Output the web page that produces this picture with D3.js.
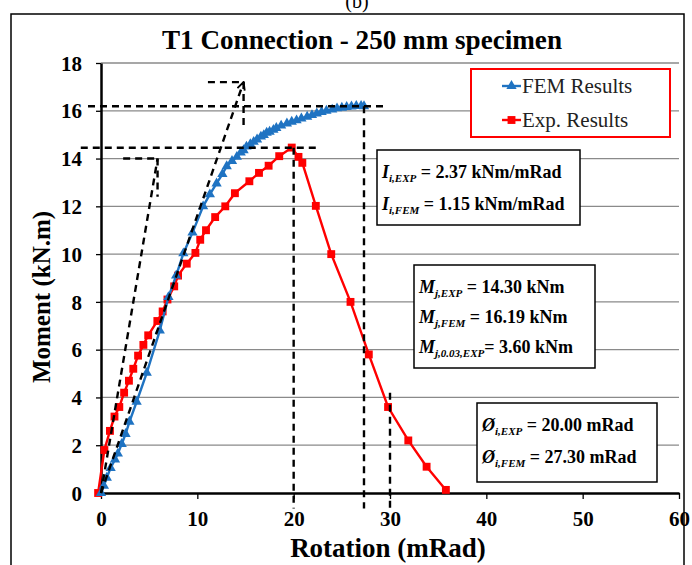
<!DOCTYPE html>
<html>
<head>
<meta charset="utf-8">
<script src="https://cdn.jsdelivr.net/npm/d3@7"></script>
<style>
  body { margin: 0; background: #fff; }
  svg { display: block; font-family: "Times New Roman", "Liberation Serif", serif; }
</style>
</head>
<body>
<div id="chart"></div>
<script>
// --- DATA ---
// FEM results: [rotation (mRad), moment (kN.m)]
const femRotation = [0, 0.3, 0.6, 1.0, 1.45, 1.75, 2.15, 2.55, 2.95, 3.7, 4.75, 6.1, 7.0, 7.8, 8.55,
  9.5, 10.6, 11.3, 12.0, 12.6, 13.05, 13.6, 14.1, 14.5, 14.8, 15.1, 15.5, 15.85, 16.2, 16.6, 16.9,
  17.2, 17.5, 17.9, 18.2, 18.7, 19.3, 19.8, 20.3, 20.8, 21.4, 21.9, 22.4, 22.9, 23.4, 24.0, 24.5,
  25.0, 25.5, 26.0, 26.5, 27.0, 27.3];
const femMoment = [0, 0.3, 0.64, 1.05, 1.4, 1.65, 2.05, 2.47, 2.98, 3.82, 5.03, 6.8, 8.2, 9.1, 10.03,
  10.9, 12.0, 12.5, 12.96, 13.35, 13.68, 13.9, 14.07, 14.25, 14.35, 14.5, 14.6, 14.7, 14.8, 14.92, 14.98,
  15.08, 15.12, 15.2, 15.28, 15.38, 15.47, 15.54, 15.6, 15.68, 15.75, 15.82, 15.89, 15.95, 16.0, 16.05, 16.1,
  16.13, 16.16, 16.18, 16.2, 16.2, 16.19];

// Experimental results
const expRotation = [-0.3, 0.35, 0.93, 1.4, 1.9, 2.4, 2.9, 3.35, 3.85, 4.4, 4.9, 5.85, 6.4, 6.9, 7.6,
  8.0, 8.9, 9.8, 10.3, 10.9, 11.85, 12.9, 13.9, 15.4, 16.4, 17.4, 18.5, 19.8, 20.5, 20.9, 22.3,
  23.9, 25.9, 27.8, 29.8, 31.9, 33.8, 35.8];
const expMoment = [0, 1.8, 2.6, 3.2, 3.6, 4.2, 4.7, 5.2, 5.75, 6.2, 6.6, 7.2, 7.6, 8.1, 8.65,
  9.1, 9.6, 10.05, 10.6, 11.0, 11.55, 12.0, 12.55, 13.05, 13.4, 13.7, 14.1, 14.46, 14.07, 13.82, 12.02,
  10.0, 8.0, 5.8, 3.6, 2.2, 1.1, 0.13];

// Dashed construction lines (rotation / moment pairs)
const guideLines = [
  { name: "expTangent", x: [0, 5.87], y: [0, 14.0] },
  { name: "expTangentH", x: [2.3, 5.87], y: [14.0, 14.0] },
  { name: "expTangentV", x: [5.87, 5.87], y: [14.0, 12.4] },
  { name: "femTangent", x: [0, 14.8], y: [0, 17.2], arrow: true },
  { name: "femTangentH", x: [11.1, 14.8], y: [17.2, 17.2] },
  { name: "femTangentV", x: [14.8, 14.8], y: [17.2, 15.2] },
  { name: "mFemH", x: [-1.35, 29.6], y: [16.19, 16.19] },
  { name: "mFemV", x: [27.3, 27.3], y: [16.19, -0.65] },
  { name: "mExpH", x: [-2.1, 22.6], y: [14.45, 14.45] },
  { name: "mExpV", x: [20, 20], y: [14.45, -0.65] },
  { name: "m003V", x: [30, 30], y: [4.2, -0.65] }
];

const xTicks = [0, 10, 20, 30, 40, 50, 60];
const yTicks = [0, 2, 4, 6, 8, 10, 12, 14, 16, 18];

const COLORS = { fem: "#1f73c2", exp: "#ff0000" };

// --- SVG SETUP ---
const width = 692, height = 565;
const margin = { top: 63, right: 13, bottom: 72, left: 101 };

const svg = d3.select("#chart").append("svg")
  .attr("width", width)
  .attr("height", height);

const x = d3.scaleLinear().domain([0, 60]).range([margin.left, width - margin.right]);
const y = d3.scaleLinear().domain([0, 18]).range([height - margin.bottom, margin.top]);

// arrow head for the FEM tangent
svg.append("defs").append("marker")
  .attr("id", "arrow")
  .attr("viewBox", "0 0 10 10")
  .attr("refX", 9).attr("refY", 5)
  .attr("markerWidth", 4).attr("markerHeight", 4)
  .attr("orient", "auto")
  .append("path")
  .attr("d", "M1,1 L9,5 L1,9")
  .attr("fill", "none")
  .attr("stroke", "#000")
  .attr("stroke-width", 2);

// outer frame
svg.append("rect")
  .attr("x", 11).attr("y", 14)
  .attr("width", 673).attr("height", 600)
  .attr("fill", "none")
  .attr("stroke", "#000")
  .attr("stroke-width", 1.5);

// panel label, cut off at the top as in the source figure
svg.append("text")
  .attr("x", 357).attr("y", 8)
  .attr("text-anchor", "middle")
  .style("font-size", "20px")
  .text("(b)");

// title
svg.append("text")
  .attr("x", 362).attr("y", 49)
  .attr("text-anchor", "middle")
  .attr("textLength", 400)
  .attr("lengthAdjust", "spacingAndGlyphs")
  .style("font-size", "27px")
  .style("font-weight", "bold")
  .text("T1 Connection - 250 mm specimen");

// --- GRID ---
svg.append("g")
  .selectAll("line")
  .data(yTicks.filter(d => d > 0))
  .join("line")
  .attr("x1", x(0)).attr("x2", x(60))
  .attr("y1", d => y(d)).attr("y2", d => y(d))
  .attr("stroke", "#8a8a8a")
  .attr("stroke-width", 1.3);

// --- AXES ---
const xAxis = svg.append("g")
  .attr("transform", `translate(0,${y(0)})`)
  .call(d3.axisBottom(x).tickValues(xTicks).tickSize(6).tickSizeOuter(0).tickPadding(12));

const yAxis = svg.append("g")
  .attr("transform", `translate(${x(0)},0)`)
  .call(d3.axisLeft(y).tickValues(yTicks).tickSize(5).tickSizeOuter(0).tickPadding(14));

[xAxis, yAxis].forEach(g => {
  g.select(".domain").attr("stroke", "#000").attr("stroke-width", 2.5);
  g.selectAll(".tick line").attr("stroke", "#000").attr("stroke-width", 1.3);
  g.selectAll(".tick text")
    .attr("fill", "#000")
    .style("font-family", '"Times New Roman", "Liberation Serif", serif')
    .style("font-weight", "bold");
});
xAxis.selectAll(".tick text").style("font-size", "21px");
yAxis.selectAll(".tick text").style("font-size", "21px").attr("dy", "0.34em");

// axis titles
svg.append("text")
  .attr("x", 388).attr("y", 557)
  .attr("text-anchor", "middle")
  .style("font-size", "27px")
  .style("font-weight", "bold")
  .text("Rotation (mRad)");

svg.append("text")
  .attr("transform", "translate(50,297) rotate(-90)")
  .attr("text-anchor", "middle")
  .style("font-size", "25px")
  .style("font-weight", "bold")
  .text("Moment (kN.m)");

// --- SERIES ---
const femData = femRotation.map((r, i) => [r, femMoment[i]]);
const expData = expRotation.map((r, i) => [r, expMoment[i]]);

const line = d3.line().x(d => x(d[0])).y(d => y(d[1]));
const triangle = d3.symbol().type(d3.symbolTriangle).size(46);
const square = d3.symbol().type(d3.symbolSquare).size(62);

svg.append("path")
  .datum(expData)
  .attr("d", line)
  .attr("fill", "none")
  .attr("stroke", COLORS.exp)
  .attr("stroke-width", 2.4);

svg.append("g")
  .selectAll("path")
  .data(expData)
  .join("path")
  .attr("transform", d => `translate(${x(d[0])},${y(d[1])})`)
  .attr("d", square)
  .attr("fill", COLORS.exp);

svg.append("path")
  .datum(femData)
  .attr("d", line)
  .attr("fill", "none")
  .attr("stroke", COLORS.fem)
  .attr("stroke-width", 2.4);

svg.append("g")
  .selectAll("path")
  .data(femData)
  .join("path")
  .attr("transform", d => `translate(${x(d[0])},${y(d[1])})`)
  .attr("d", triangle)
  .attr("fill", COLORS.fem);

// --- DASHED GUIDES ---
svg.append("g")
  .selectAll("line")
  .data(guideLines)
  .join("line")
  .attr("x1", d => x(d.x[0])).attr("y1", d => y(d.y[0]))
  .attr("x2", d => x(d.x[1])).attr("y2", d => y(d.y[1]))
  .attr("stroke", "#000")
  .attr("stroke-width", 2.4)
  .attr("stroke-dasharray", "7,5")
  .attr("marker-end", d => d.arrow ? "url(#arrow)" : null);

// --- LEGEND ---
const legend = svg.append("g");
legend.append("rect")
  .attr("x", 471).attr("y", 69)
  .attr("width", 199).attr("height", 68)
  .attr("fill", "#fff")
  .attr("stroke", "#ff0000")
  .attr("stroke-width", 2);

const legendItems = [
  { label: "FEM Results", color: COLORS.fem, symbol: triangle },
  { label: "Exp. Results", color: COLORS.exp, symbol: square }
];
legendItems.forEach((item, i) => {
  const cy = 86 + i * 34;
  legend.append("line")
    .attr("x1", 502).attr("x2", 521)
    .attr("y1", cy).attr("y2", cy)
    .attr("stroke", item.color).attr("stroke-width", 2.4);
  legend.append("path")
    .attr("transform", `translate(511.5,${cy})`)
    .attr("d", item.symbol)
    .attr("fill", item.color);
  legend.append("text")
    .attr("x", 522).attr("y", cy + 7)
    .style("font-size", "21px")
    .attr("fill", "#222")
    .text(item.label);
});

// --- ANNOTATION BOXES ---
const boxes = [
  { x: 377, y: 150, w: 203, h: 75, lines: [
      { sym: "I", sub: "i,EXP", rest: " = 2.37 kNm/mRad" },
      { sym: "I", sub: "i,FEM", rest: " = 1.15 kNm/mRad" }] },
  { x: 414, y: 265, w: 181, h: 103, lines: [
      { sym: "M", sub: "j,EXP", rest: " = 14.30 kNm" },
      { sym: "M", sub: "j,FEM", rest: " = 16.19 kNm" },
      { sym: "M", sub: "j,0.03,EXP", rest: "= 3.60 kNm" }] },
  { x: 477, y: 403, w: 180, h: 79, lines: [
      { sym: "Ø", sub: "i,EXP", rest: " = 20.00 mRad" },
      { sym: "Ø", sub: "i,FEM", rest: " = 27.30 mRad" }] }
];

boxes.forEach(b => {
  const g = svg.append("g");
  g.append("rect")
    .attr("x", b.x).attr("y", b.y)
    .attr("width", b.w).attr("height", b.h)
    .attr("fill", "#fff")
    .attr("stroke", "#000")
    .attr("stroke-width", 1.5);
  const step = b.lines.length === 3 ? 30 : 32;
  b.lines.forEach((l, i) => {
    const t = g.append("text")
      .attr("x", b.x + 5)
      .attr("y", b.y + 28 + i * step)
      .style("font-size", "18px")
      .style("font-weight", "bold");
    t.append("tspan").style("font-style", "italic").text(l.sym);
    t.append("tspan").style("font-style", "italic").style("font-size", "11px")
      .attr("dy", 4).text(l.sub);
    t.append("tspan").attr("dy", -4).text(l.rest);
  });
});
</script>
</body>
</html>
